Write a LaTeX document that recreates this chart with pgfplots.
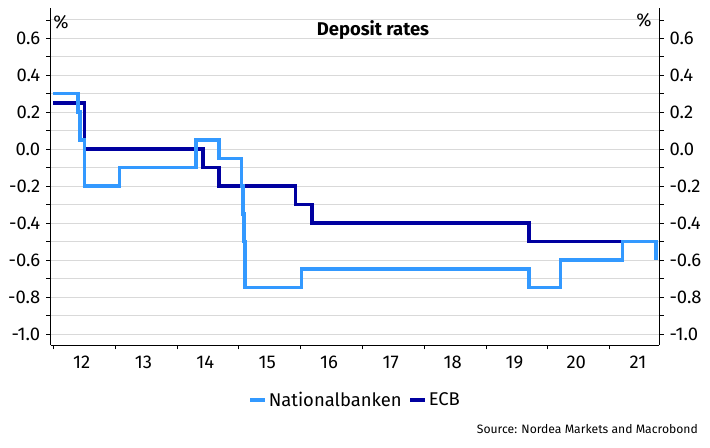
\documentclass[border=0pt]{standalone}
\usepackage{pgfplots}
\pgfplotsset{compat=1.18}
\usepackage{fontspec}
\setmainfont{Fira Sans}
\definecolor{natblue}{RGB}{51,153,255}
\definecolor{ecbblue}{RGB}{0,0,160}
\definecolor{gridgray}{RGB}{217,217,217}
\begin{document}
\begin{tikzpicture}[font=\fontsize{18.5}{21}\selectfont]
\useasboundingbox (0,0) rectangle (710bp,448bp);
\pgfplotsset{
  rateaxis/.style={
    at={(50.7bp,103bp)}, anchor=south west, scale only axis,
    width=608.3bp, height=337bp,
    xmin=2011.96, xmax=2021.80, ymin=-1.06, ymax=0.764,
    ytick={-1,-0.8,-0.6,-0.4,-0.2,0,0.2,0.4,0.6},
    minor ytick={-0.9,-0.7,-0.5,-0.3,-0.1,0.1,0.3,0.5,0.7},
    yticklabel style={/pgf/number format/fixed, /pgf/number format/fixed zerofill,
      /pgf/number format/precision=1, /pgf/number format/assume math mode=true},
    tick align=outside, major tick length=4.5bp, minor tick length=4.5bp,
    tick style={black, line width=0.6bp},
    axis line style={-, black, line width=0.9bp},
  }
}
\begin{axis}[rateaxis,
  axis x line*=bottom, axis y line*=left,
  yticklabel style={xshift=-2.5bp},
  xtick={2012,2013,2014,2015,2016,2017,2018,2019,2020,2021},
  xticklabels={12,13,14,15,16,17,18,19,20,21},
  xticklabel style={xshift=28.5bp, yshift=-3bp},
  grid=both, xmajorgrids=false,
  grid style={gridgray, line width=0.8bp},
  minor grid style={gridgray, line width=0.8bp},
  legend columns=2,
  legend style={at={(0.5,-0.163)}, anchor=center, draw=none, fill=none,
    /tikz/every even column/.append style={column sep=5bp},
    nodes={inner sep=1.5bp}},
  legend image code/.code={\draw[#1, line width=4bp] (0bp,0bp) -- (15bp,0bp);},
  every axis plot/.append style={line width=3.5bp, const plot mark left, mark=none},
]
\addplot[ecbblue, forget plot] coordinates {
  (2012.00,0.25) (2012.51,0.00) (2014.42,-0.10) (2014.68,-0.20)
  (2015.92,-0.30) (2016.19,-0.40) (2019.70,-0.50) (2021.75,-0.50)
};
\addplot[natblue] coordinates {
  (2012.00,0.30) (2012.40,0.20) (2012.43,0.05) (2012.51,-0.20)
  (2013.07,-0.10) (2014.31,0.05) (2014.68,-0.05) (2015.05,-0.20)
  (2015.07,-0.35) (2015.09,-0.50) (2015.10,-0.75) (2016.02,-0.65)
  (2019.70,-0.75) (2020.21,-0.60) (2021.21,-0.50) (2021.75,-0.60)
};
\addlegendentry{Nationalbanken}
\addlegendimage{ecbblue}
\addlegendentry{ECB}
\end{axis}
\begin{axis}[rateaxis,
  axis x line=none, axis y line*=right, yticklabel pos=right,
  yticklabel style={xshift=2.5bp},
]
\end{axis}
\node[font=\fontsize{18.5}{21}\selectfont\bfseries] at (373bp,418bp) {Deposit rates};
\node at (61bp,426bp) {\%};
\node at (644bp,428bp) {\%};
\node[anchor=base east, inner sep=0pt, font=\fontsize{12.2}{14}\selectfont] at (698bp,15bp) {Source: Nordea Markets and Macrobond};
\end{tikzpicture}
\end{document}
